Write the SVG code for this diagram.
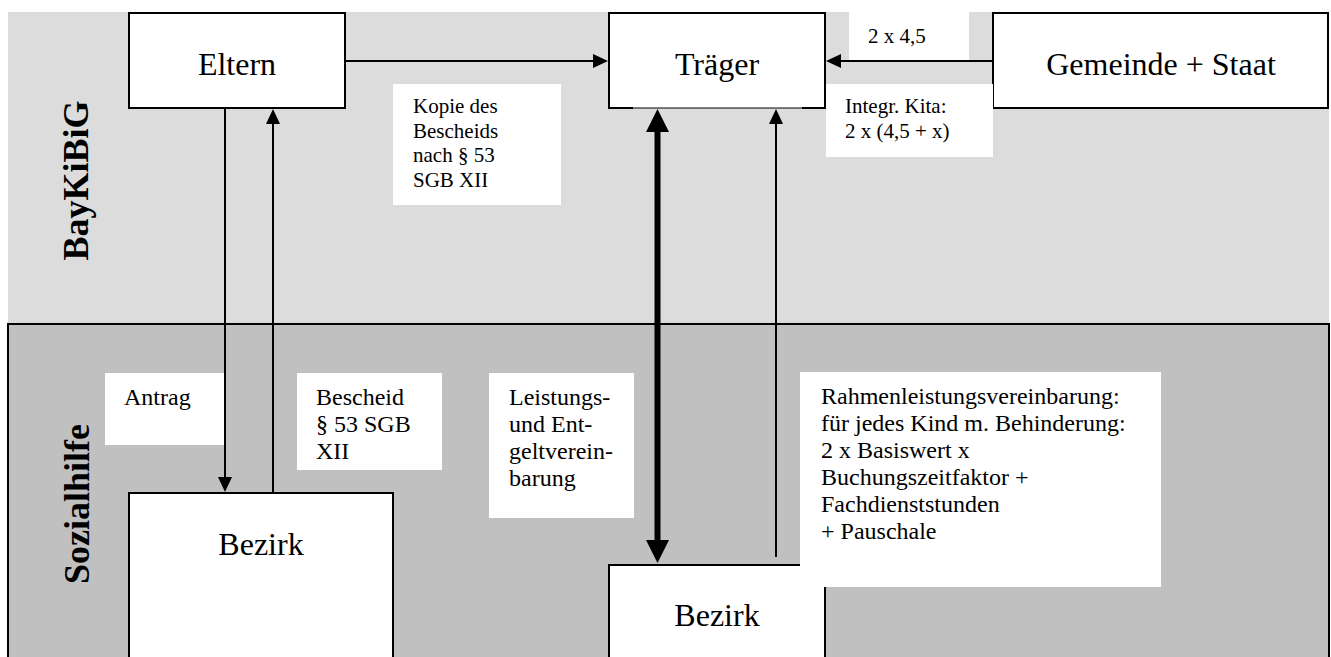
<svg xmlns="http://www.w3.org/2000/svg" width="1331" height="657" viewBox="0 0 1331 657">
<style>
.node{fill:#fff;stroke:#000;stroke-width:2}
.lbl{fill:#fff;stroke:none}
.nt{font-family:"Liberation Serif","Times New Roman",serif;font-size:32px;fill:#000;text-anchor:middle}
.st{font-family:"Liberation Serif","Times New Roman",serif;font-size:21px;fill:#000}
.bt{font-family:"Liberation Serif","Times New Roman",serif;font-size:24px;fill:#000}
.rt{font-family:"Liberation Serif","Times New Roman",serif;font-size:36px;font-weight:bold;fill:#000;text-anchor:middle}
.c{stroke:#000;stroke-width:2;fill:none}
.ck{stroke:#000;stroke-width:6;fill:none}
</style>
<defs>
<marker id="ah" viewBox="0 0 15 14" refX="2" refY="7" markerWidth="15" markerHeight="14" markerUnits="userSpaceOnUse" orient="auto"><path d="M0,0 L15,7 L0,14 z" fill="#000"/></marker>
<marker id="ahb" viewBox="0 0 23 23" refX="3" refY="11.5" markerWidth="23" markerHeight="23" markerUnits="userSpaceOnUse" orient="auto-start-reverse"><path d="M0,0 L23,11.5 L0,23 z" fill="#000"/></marker>
</defs>
<rect width="1331" height="657" fill="#fff"/>
<g id="region-baykibig">
<rect x="8" y="12" width="1321" height="312" fill="#dcdcdc"/>
<text class="rt" x="88" y="180.5" transform="rotate(-90 88 180.5)">BayKiBiG</text>
</g>
<g id="region-sozialhilfe">
<rect x="8" y="324" width="1321" height="345" fill="#c0c0c0" stroke="#000" stroke-width="2"/>
<text class="rt" x="89" y="504" transform="rotate(-90 89 504)">Sozialhilfe</text>
</g>
<g id="eltern">
<rect class="node" x="129" y="13" width="216" height="95"/>
<text class="nt" x="237" y="75">Eltern</text>
</g>
<g id="traeger">
<rect x="609" y="13" width="216" height="95" fill="#fff"/>
<path d="M633,108 L609,108 L609,13 L825,13 L825,108 L802,108" class="c"/>
<line x1="633" y1="108" x2="802" y2="108" stroke="#000" stroke-width="1"/>
<text class="nt" x="717" y="75">Träger</text>
</g>
<g id="gemeinde-staat">
<rect class="node" x="993" y="13" width="335" height="95"/>
<text class="nt" x="1161" y="75">Gemeinde + Staat</text>
</g>
<g id="bezirk1">
<rect class="node" x="129" y="493" width="264" height="180"/>
<text class="nt" x="261" y="555">Bezirk</text>
</g>
<g id="bezirk2">
<rect class="node" x="609" y="565" width="216" height="120"/>
<text class="nt" x="717" y="626">Bezirk</text>
</g>
<g id="labels">
<rect class="lbl" x="393" y="84" width="168" height="121"/>
<text class="st" x="413" y="113">Kopie des</text>
<text class="st" x="413" y="137.5">Bescheids</text>
<text class="st" x="413" y="162">nach § 53</text>
<text class="st" x="413" y="186.5">SGB XII</text>
<rect class="lbl" x="849" y="12" width="120" height="49"/>
<text class="st" x="868" y="43">2 x 4,5</text>
<rect class="lbl" x="826" y="84" width="167" height="73"/>
<text class="st" x="845" y="113">Integr. Kita:</text>
<text class="st" x="845" y="138">2 x (4,5 + x)</text>
<rect class="lbl" x="105" y="373" width="121" height="72"/>
<text class="bt" x="124" y="405">Antrag</text>
<rect class="lbl" x="297" y="373" width="145" height="97"/>
<text class="bt" x="316" y="405">Bescheid</text>
<text class="bt" x="316" y="432">§ 53 SGB</text>
<text class="bt" x="316" y="459">XII</text>
<rect class="lbl" x="489" y="373" width="145" height="145"/>
<text class="bt" x="509" y="405">Leistungs-</text>
<text class="bt" x="509" y="432">und Ent-</text>
<text class="bt" x="509" y="459">geltverein-</text>
<text class="bt" x="509" y="486">barung</text>
<rect class="lbl" x="800" y="372" width="361" height="215"/>
<text class="bt" x="821" y="404">Rahmenleistungsvereinbarung:</text>
<text class="bt" x="821" y="431">für jedes Kind m. Behinderung:</text>
<text class="bt" x="821" y="458">2 x Basiswert x</text>
<text class="bt" x="821" y="485">Buchungszeitfaktor +</text>
<text class="bt" x="821" y="512">Fachdienststunden</text>
<text class="bt" x="821" y="539">+ Pauschale</text>
</g>
<g id="connectors">
<line class="c" x1="345" y1="61" x2="595" y2="61" marker-end="url(#ah)"/>
<line class="c" x1="993" y1="61" x2="839" y2="61" marker-end="url(#ah)"/>
<line class="c" x1="225" y1="108" x2="225" y2="479" marker-end="url(#ah)"/>
<line class="c" x1="273" y1="493" x2="273" y2="122" marker-end="url(#ah)"/>
<line class="ck" x1="657.5" y1="129" x2="657.5" y2="543" marker-start="url(#ahb)" marker-end="url(#ahb)"/>
<line class="c" x1="776" y1="557" x2="776" y2="122" marker-end="url(#ah)"/>
</g>
</svg>
